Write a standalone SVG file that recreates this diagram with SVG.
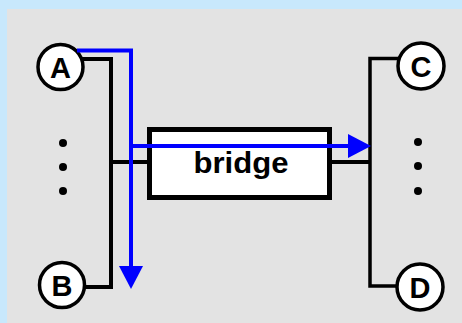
<svg xmlns="http://www.w3.org/2000/svg" width="462" height="323" viewBox="0 0 462 323">
<defs>
<style>
.node circle{fill:#fff;stroke:#000;stroke-width:3.5}
.node text{font-family:"Liberation Sans",Arial,sans-serif;font-weight:bold;font-size:29px;text-anchor:middle;fill:#000}
.bus{fill:none;stroke:#000;stroke-width:4;stroke-linejoin:miter}
.flow{fill:none;stroke:#0000ff;stroke-width:4}
.head{fill:#0000ff}
.dot{fill:#000}
</style>
<path id="ah" d="M0,0 L-23,-12 L-23,12 Z"/>
</defs>
<rect x="0" y="0" width="462" height="323" fill="#c8e8fc"/>
<rect x="7" y="9" width="455" height="314" fill="#e3e3e3"/>
<g id="connectors">
<path class="bus" d="M80,59 H111 V287 H84"/>
<path class="bus" d="M111,162 H149"/>
<path class="bus" d="M330,162 H370"/>
<path class="bus" style="stroke-width:3.5" d="M398,58.5 H370 V286 H397"/>
</g>
<g id="dots-left">
<circle class="dot" cx="63" cy="143" r="4"/>
<circle class="dot" cx="63" cy="167" r="4"/>
<circle class="dot" cx="63" cy="191" r="4"/>
</g>
<g id="dots-right">
<circle class="dot" cx="418" cy="142" r="4"/>
<circle class="dot" cx="418" cy="166" r="4"/>
<circle class="dot" cx="418" cy="191" r="4"/>
</g>
<g id="bridge">
<rect x="149.5" y="129.5" width="180" height="68" fill="#fff" stroke="#000" stroke-width="5"/>
<text x="241" y="173" font-family="Liberation Sans,Arial,sans-serif" font-size="30" font-weight="bold" text-anchor="middle" fill="#000" textLength="95" lengthAdjust="spacingAndGlyphs">bridge</text>
</g>
<g id="A" class="node"><circle cx="60.5" cy="67" r="22.5"/><text x="60.5" y="77.5">A</text></g>
<g id="B" class="node"><circle cx="62" cy="285" r="22.5"/><text x="62" y="295.5">B</text></g>
<g id="C" class="node"><circle cx="421" cy="66" r="23"/><text x="421" y="76.5">C</text></g>
<g id="D" class="node"><circle cx="420" cy="287" r="23"/><text x="420" y="297.5">D</text></g>
<g id="flows">
<path class="flow" d="M77,50.5 H131 V270"/>
<use href="#ah" class="head" transform="translate(131,289) rotate(90)"/>
<path class="flow" d="M131,146 H350"/>
<use href="#ah" class="head" transform="translate(371,146)"/>
</g>
</svg>
